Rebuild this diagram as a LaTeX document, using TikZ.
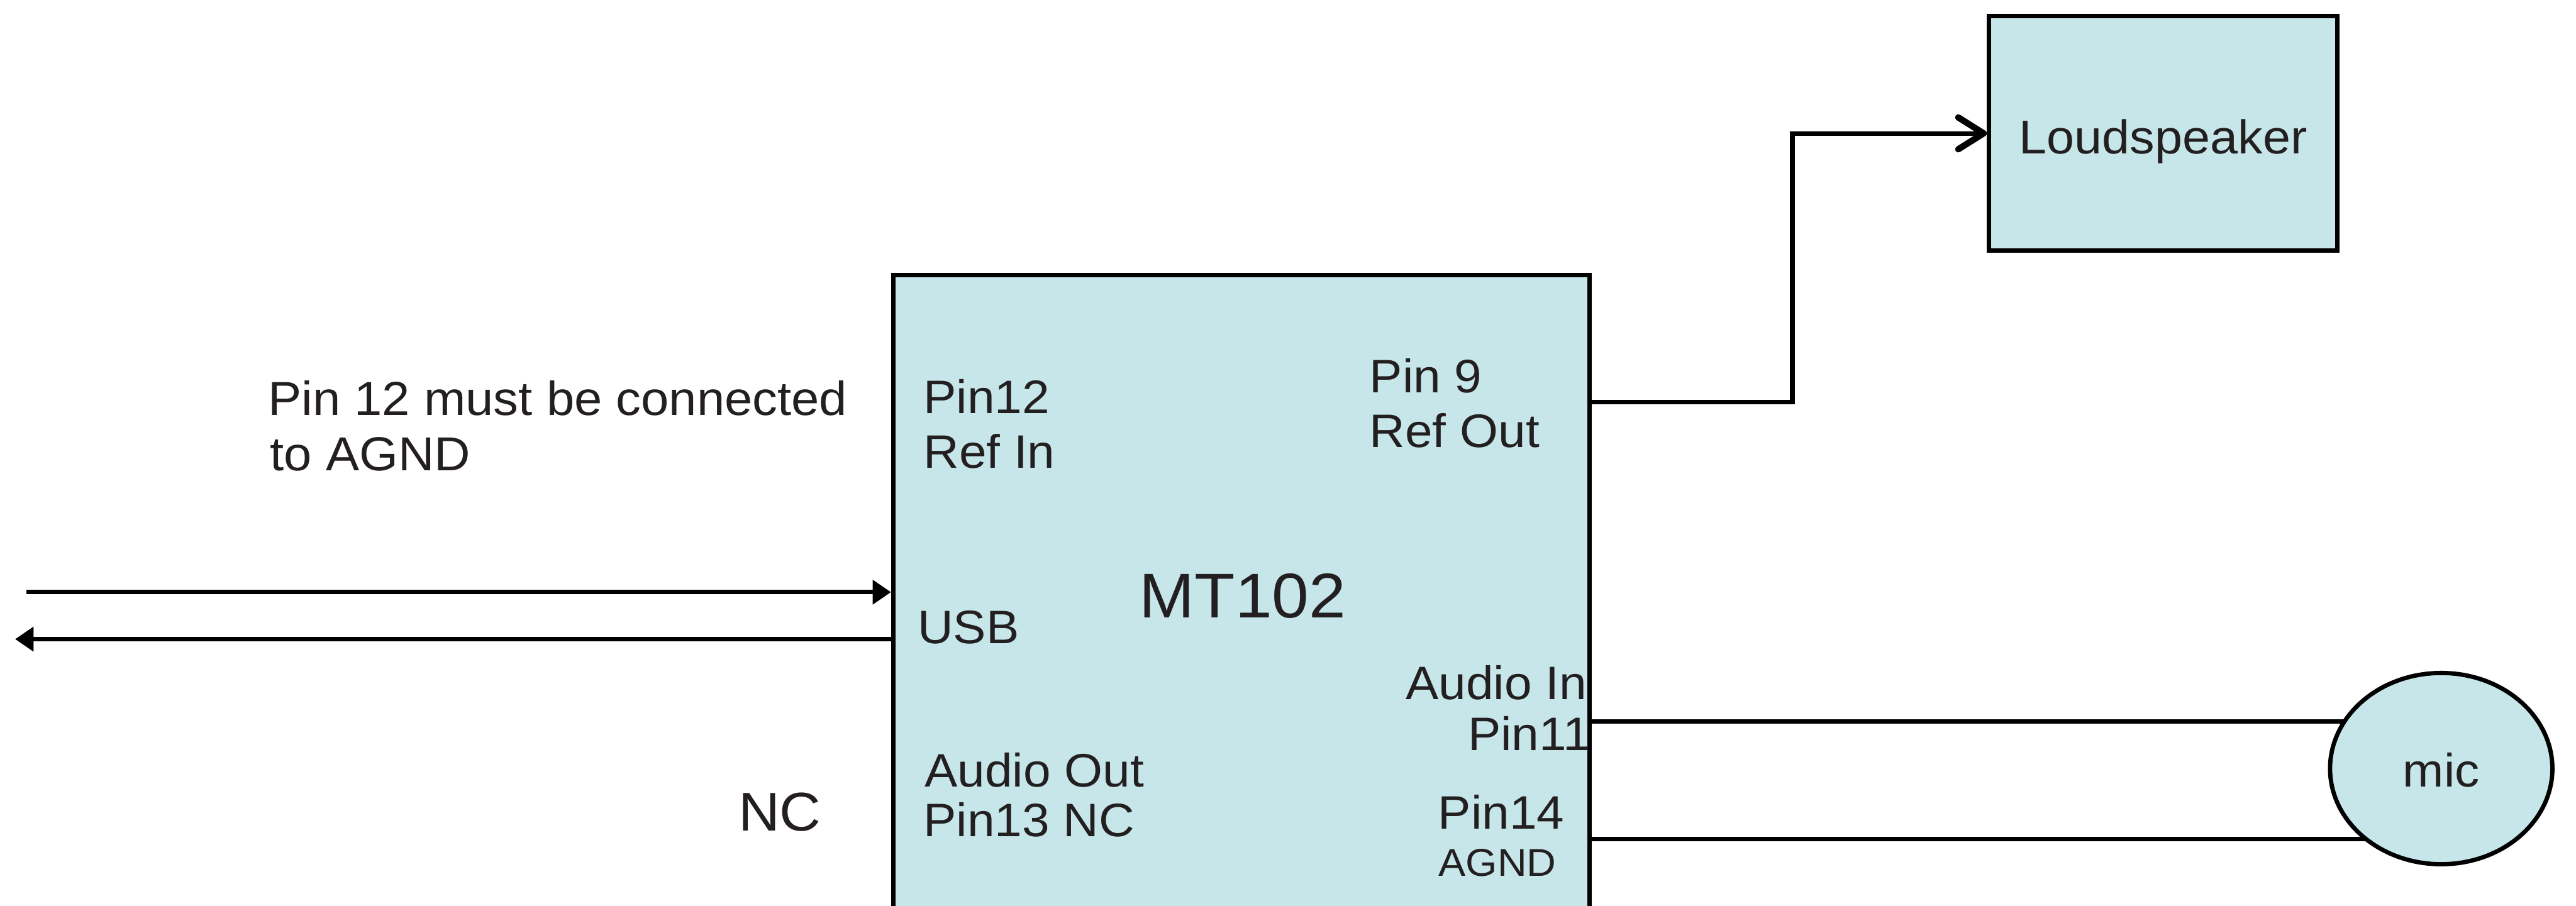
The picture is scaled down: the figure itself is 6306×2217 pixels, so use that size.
\documentclass[tikz,border=0pt]{standalone}
\usepackage{fontspec}
\setmainfont{Liberation Sans}[FakeStretch=1.05]
\usetikzlibrary{arrows.meta,shapes.geometric}
\definecolor{boxfill}{RGB}{198,230,233}
\definecolor{txt}{RGB}{35,31,32}
\pgfdeclarelayer{background}
\pgfsetlayers{background,main}
\tikzset{
  wire/.style={line width=0.11cm, black},
  block/.style={draw=black, line width=0.105cm, fill=boxfill, inner sep=0pt},
  lbl/.style={inner sep=0pt, anchor=base west, text=txt, font=\fontsize{32.7}{38}\selectfont},
  lblr/.style={lbl, anchor=base east},
  usbarrow/.style={wire, -{Triangle[length=0.45cm,width=0.58cm]}},
  spkarrow/.style={wire, -{Straight Barb[length=0.62cm,width=0.78cm,line width=0.155cm,round]}}
}
\begin{document}
\begin{tikzpicture}[x=0.01cm,y=-0.01cm]
\useasboundingbox (0,0) rectangle (6306,2217);
\begin{pgfonlayer}{background}
\fill[white] (0,0) rectangle (6306,2217);
\end{pgfonlayer}
\clip (0,0) rectangle (6306,2217);

% blocks
\node[block, rectangle, minimum width=17.04cm, minimum height=17.26cm] (main) at (3039,1537) {};
\node[block, rectangle, minimum width=8.53cm, minimum height=5.73cm,
      text height=1.26cm, text depth=0.25cm, text=txt, font=\fontsize{33}{38}\selectfont] (spk) at (5295.5,326.5) {Loudspeaker};
\node[block, ellipse, minimum width=5.44cm, minimum height=4.68cm,
      text height=0.9cm, text depth=0cm, text=txt, font=\fontsize{32.7}{38}\selectfont] (mic) at (5976,1882) {mic};

% connectors
\draw[spkarrow] (main.east |- 0,985) -- ++(491,0) |- (spk.west);
\begin{pgfonlayer}{background}
\draw[wire] (main.east |- 0,1767) -- (mic.center |- 0,1767);
\draw[wire] (main.east |- 0,2054) -- (mic.center |- 0,2054);
\end{pgfonlayer}
\coordinate (usbin) at (64,1450);
\coordinate (usbout) at (37,1565);
\draw[usbarrow] (usbin) -- (main.west |- usbin);
\draw[usbarrow] (main.west |- usbout) -- (usbout);

% labels inside the main block
\node[lbl] (p12a) at (2260,1012) {Pin12};
\node[lbl] (p12b) at (2260,1146) {Ref In};
\node[lbl] (p9a) at (3352,961) {Pin 9};
\node[lbl] (p9b) at (3352,1095) {Ref Out};
\node[inner sep=0pt, anchor=base, text=txt, font=\fontsize{44}{50}\selectfont] (title) at (3042,1513) {MT102};
\node[lbl] (usb) at (2246,1575) {USB};
\node[lblr] (ain) at (3885,1713) {Audio In};
\node[lblr] (p11) at (3894,1837) {Pin11};
\node[lbl] (aouta) at (2263,1927) {Audio Out};
\node[lbl] (aoutb) at (2260,2049) {Pin13 NC};
\node[lbl] (p14) at (3520,2030) {Pin14};
\node[lbl, font=\fontsize{27}{32}\selectfont] (agnd) at (3521,2146) {AGND};

% labels outside
\node[lbl, font=\fontsize{33.2}{38}\selectfont] (notea) at (656,1017) {Pin 12 must be connected};
\node[lbl, font=\fontsize{33.2}{38}\selectfont] (noteb) at (661,1153) {to AGND};
\node[lbl, font=\fontsize{38}{44}\selectfont] (nc) at (1807,2034) {NC};
\end{tikzpicture}
\end{document}
